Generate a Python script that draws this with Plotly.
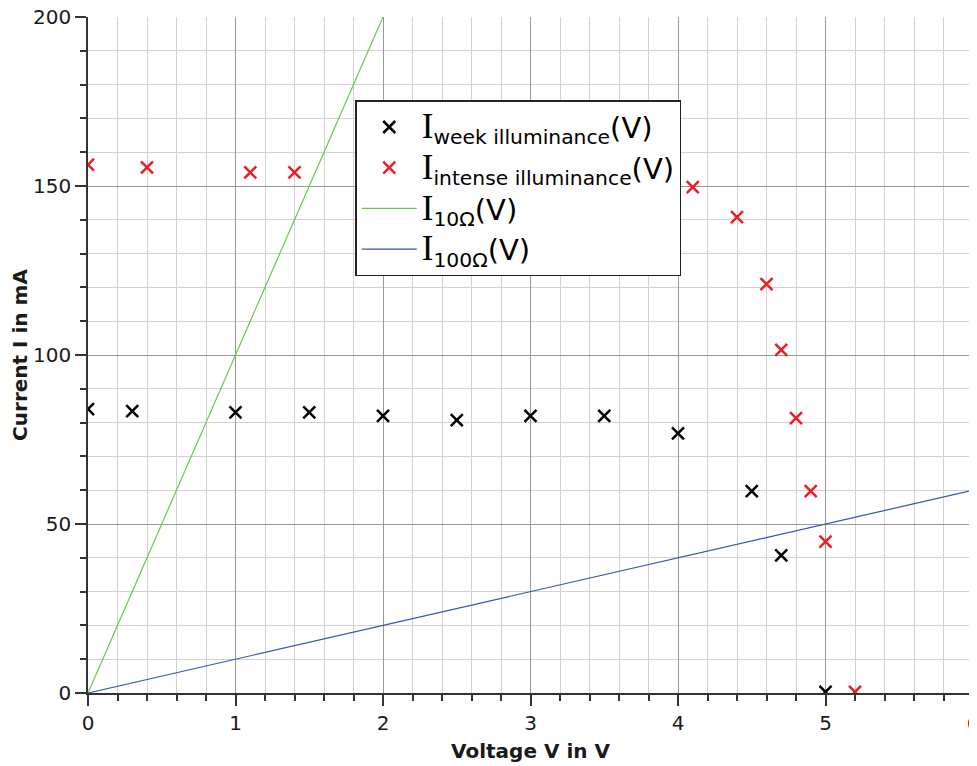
import plotly.graph_objects as go

# Data
v_weak = [0.0, 0.3, 1.0, 1.5, 2.0, 2.5, 3.0, 3.5, 4.0, 4.5, 4.7, 5.0]
i_weak = [84, 83.4, 83, 83, 82, 80.7, 82, 82, 76.8, 59.7, 40.7, 0.3]
v_intense = [0.0, 0.4, 1.1, 1.4, 4.1, 4.4, 4.6, 4.7, 4.8, 4.9, 5.0, 5.2]
i_intense = [156.3, 155.5, 154, 154, 149.7, 140.8, 121, 101.5, 81.3, 59.7, 44.8, 0.3]
v_10 = [0, 2]
i_10 = [0, 200]
v_100 = [0, 6]
i_100 = [0, 60]

serif = "Liberation Serif"

def lab(sub):
    return ("<span style='font-family:%s;font-size:35px'>I</span><sub>%s</sub>(V)" % (serif, sub))

fig = go.Figure()
fig.add_trace(go.Scatter(x=v_weak, y=i_weak, mode="markers", name=lab("week illuminance"),
                         marker=dict(symbol="x-thin", size=12, line=dict(color="black", width=2.5))))
fig.add_trace(go.Scatter(x=v_intense, y=i_intense, mode="markers", name=lab("intense illuminance"),
                         marker=dict(symbol="x-thin", size=12, line=dict(color="#ee1c24", width=2.5))))
fig.add_trace(go.Scatter(x=v_10, y=i_10, mode="lines", name=lab("10Ω"),
                         line=dict(color="#66c94f", width=1.2)))
fig.add_trace(go.Scatter(x=v_100, y=i_100, mode="lines", name=lab("100Ω"),
                         line=dict(color="#3553b5", width=1.2)))

axis_common = dict(
    showline=True, linecolor="#333", linewidth=1.5,
    ticks="outside", ticklen=11, tickwidth=1.5, tickcolor="#333",
    showgrid=True, gridcolor="#999999", gridwidth=1,
    zeroline=False, automargin=False, ticklabeloverflow="allow",
    tickfont=dict(family="DejaVu Sans", size=20, color="#1a1a1a"),
    title_font=dict(family="DejaVu Sans", size=20, color="#1a1a1a"),
)

fig.update_xaxes(range=[0, 6], dtick=1, tick0=0,
                 minor=dict(dtick=0.2, showgrid=True, gridcolor="#d2d2d2", gridwidth=1,
                            ticks="outside", ticklen=6, tickcolor="#333", tickwidth=1.5),
                 title_text="<b>Voltage V in V</b>", title_standoff=10, **axis_common)
fig.update_yaxes(range=[0, 200], dtick=50, tick0=0,
                 minor=dict(dtick=10, showgrid=True, gridcolor="#d2d2d2", gridwidth=1,
                            ticks="outside", ticklen=6, tickcolor="#333", tickwidth=1.5),
                 title_text="<b>Current I in mA</b>", title_standoff=0, **axis_common)

fig.update_layout(
    width=969, height=758,
    margin=dict(l=80, r=4, t=9, b=73),
    plot_bgcolor="white", paper_bgcolor="white",
    showlegend=True,
    legend=dict(x=0.302, y=0.877, xanchor="left", yanchor="top",
                bgcolor="white", bordercolor="#222", borderwidth=1.5,
                font=dict(family="DejaVu Sans", size=29, color="black"),
                tracegroupgap=0, itemwidth=55),
)

fig.write_html("out.html")
